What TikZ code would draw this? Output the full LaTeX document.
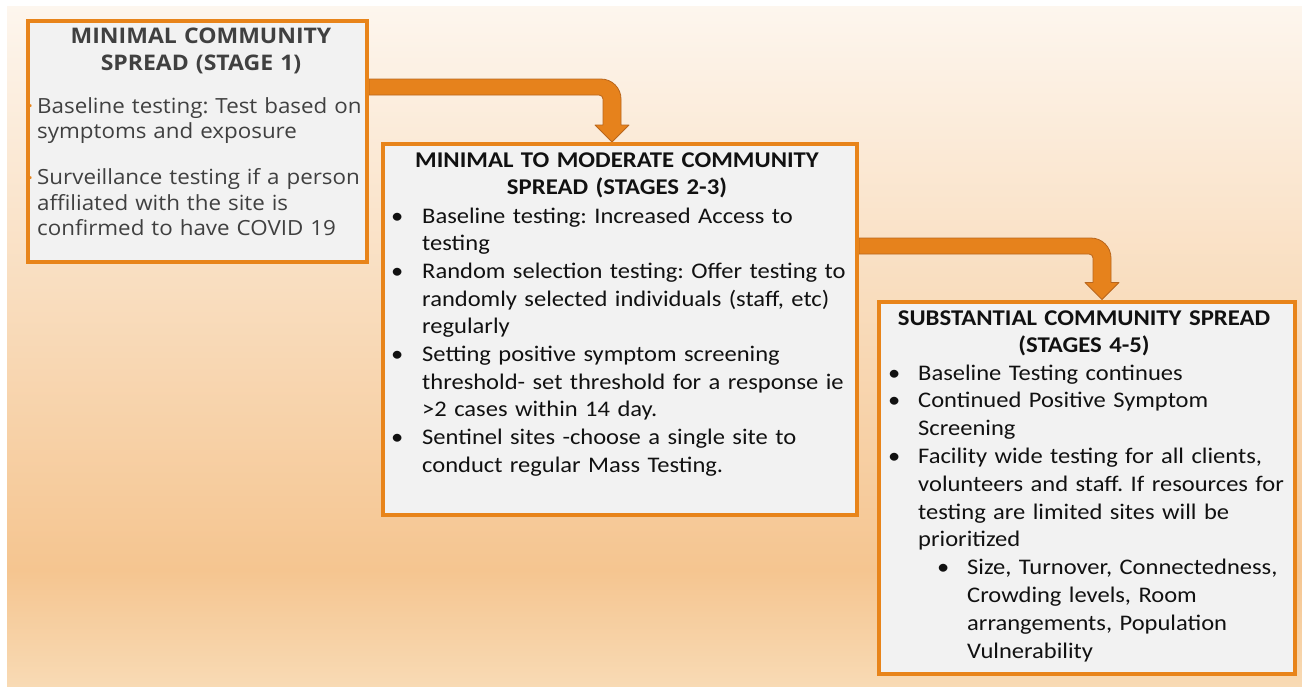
\documentclass[tikz,border=0pt]{standalone}
\usepackage{fontspec}
\setmainfont{Carlito}[FakeStretch=1.1]
\newfontfamily\segoe{Open Sans}[FakeStretch=1.07]
\usetikzlibrary{positioning,calc,backgrounds}

\definecolor{boxfill}{HTML}{F2F2F2}
\definecolor{boxedge}{HTML}{E8841A}
\definecolor{arrowfill}{HTML}{E6821C}
\definecolor{arrowedge}{HTML}{B9661C}
\definecolor{greytext}{HTML}{404040}
\definecolor{darktext}{HTML}{111111}
\definecolor{bgtop}{HTML}{FDF6EE}
\definecolor{bgmid}{HTML}{F5C590}
\definecolor{bgbot}{HTML}{F8DAB4}

\frenchspacing
% bullet with a hanging indent (end each item with \par)
\newcommand{\bul}[1]{\noindent\hangindent=#1\hangafter=1\makebox[#1][l]{\textbullet}}
\newcommand{\subbul}[2]{\noindent\hangindent=#2\hangafter=1\hspace*{#1}\makebox[\dimexpr#2-#1\relax][l]{\textbullet}}
\newcommand{\dotitem}{\leavevmode\llap{\raisebox{2.5pt}{\textcolor{boxedge}{\fontsize{12}{12}\selectfont\textbullet}}\hspace{4.5pt}}}

% bent arrow from a point on the left box down onto the next box
\newcommand{\bendarrow}[2]{%
  \filldraw[bentarrow] let \p1=(#1), \p2=(#2) in
    (\x1,\y1+8pt) -- (\x2-11pt,\y1+8pt) arc[start angle=90,end angle=0,radius=20pt]
    -- (\x2+9pt,\y2+17pt) -- (\x2+17pt,\y2+17pt) -- (\x2,\y2) -- (\x2-17pt,\y2+17pt)
    -- (\x2-9pt,\y2+17pt) -- (\x2-9pt,\y1-12pt) arc[start angle=0,end angle=90,radius=4pt]
    -- (\x1,\y1-8pt) -- cycle;
}

\tikzset{
  stagebox/.style={draw=boxedge, line width=4pt, fill=boxfill, anchor=north west, inner sep=0pt},
  heading/.style={anchor=base, inner sep=0pt, align=center, text width=#1},
  itemlist/.style={anchor=base west, inner sep=0pt, align=left, text width=#1},
  bentarrow/.style={fill=arrowfill, draw=arrowedge, line width=0.8pt, line join=round}
}

\begin{document}
\begin{tikzpicture}[x=1pt,y=-1pt]
\useasboundingbox (0,0) rectangle (1302,686);

\coordinate (a1) at (365,87);
\coordinate (a2) at (855,246);

% the three stages
\node[stagebox, minimum width=339pt, minimum height=241pt] (stage1) at (26,19) {};
\node[stagebox, minimum width=474pt, minimum height=371pt] (stage2) at (381,142) {};
\node[stagebox, minimum width=416pt, minimum height=372pt] (stage3) at (877,299.5) {};

\begin{scope}[on background layer]
  % backdrop
  \fill[white] (0,0) rectangle (1302,686);
  \shade[top color=bgtop, bottom color=bgmid] (7,6) rectangle (1302,570.5);
  \shade[top color=bgmid, bottom color=bgbot] (7,570) rectangle (1302,686);
  % arrows between the stages
  \bendarrow{stage1.east |- a1}{stage2.north -| 612,0}
  \bendarrow{stage2.east |- a2}{stage3.north -| 1102,0}
\end{scope}

% stage 1
\node[heading=340pt, text=greytext, font=\segoe\bfseries\fontsize{21.5}{27}\selectfont] (s1head) at (201,43)
  {MINIMAL COMMUNITY\\SPREAD (STAGE 1)};
\node[itemlist=330pt, text=greytext, font=\segoe\fontsize{20.9}{25.5}\selectfont] (s1list) at (37,113) {%
  \dotitem Baseline testing: Test based on\newline symptoms and exposure\par\vspace{20.5pt}
  \dotitem Surveillance testing if a person\newline affiliated with the site is\newline confirmed to have COVID 19\par};

% stage 2
\node[heading=470pt, text=darktext, font=\bfseries\fontsize{22.5}{27.7}\selectfont] (s2head) at (617,167)
  {MINIMAL TO MODERATE COMMUNITY\\SPREAD (STAGES 2-3)};
\node[itemlist=470pt, text=darktext, font=\fontsize{22.3}{27.7}\selectfont] (s2list) at (391,223) {%
  \bul{31pt}Baseline testing: Increased Access to\newline testing\par
  \bul{31pt}Random selection testing: Offer testing to\newline randomly selected individuals (staff, etc)\newline regularly\par
  \bul{31pt}Setting positive symptom screening\newline threshold- set threshold for a response ie\newline >2 cases within 14 day.\par
  \bul{31pt}Sentinel sites -choose a single site to\newline conduct regular Mass Testing.\par};

% stage 3
\node[heading=410pt, text=darktext, font=\bfseries\fontsize{22.5}{27.7}\selectfont] (s3head) at (1084,325)
  {SUBSTANTIAL COMMUNITY SPREAD\\(STAGES 4-5)};
\node[itemlist=410pt, text=darktext, font=\fontsize{22.3}{27.8}\selectfont] (s3list) at (888,380) {%
  \bul{30pt}Baseline Testing continues\par
  \bul{30pt}Continued Positive Symptom\newline Screening\par
  \bul{30pt}Facility wide testing for all clients,\newline volunteers and staff. If resources for\newline testing are limited sites will be\newline prioritized\par
  \subbul{49pt}{79pt}Size, Turnover, Connectedness,\newline Crowding levels, Room\newline arrangements, Population\newline Vulnerability\par};
\end{tikzpicture}
\end{document}
